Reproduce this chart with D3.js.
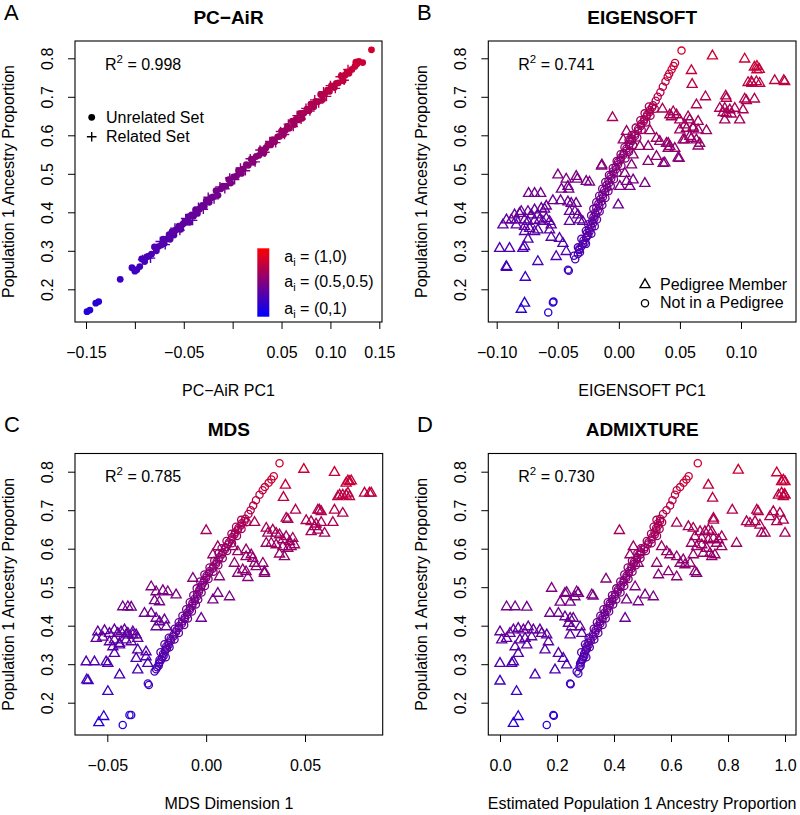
<!DOCTYPE html>
<html><head><meta charset="utf-8">
<script src="https://cdn.jsdelivr.net/npm/d3@7"></script>
<style>
body{margin:0;background:#fff}
svg{display:block}
text{font-family:"Liberation Sans",Arial,Helvetica,sans-serif;fill:#000}
</style>
</head><body>
<svg id="c" width="800" height="815"></svg>
<script>
// ---------------- DATA ----------------
const yTicks = [0.2,0.3,0.4,0.5,0.6,0.7,0.8];
const yTickLabels = ["0.2","0.3","0.4","0.5","0.6","0.7","0.8"];

const pcairXTicks = [-0.15,-0.10,-0.05,0,0.05,0.10,0.15];
const pcairXLabels = ["\u22120.15","","\u22120.05","","0.05","0.10","0.15"];
const eigXTicks = [-0.10,-0.05,0,0.05,0.10];
const eigXLabels = ["\u22120.10","\u22120.05","0.00","0.05","0.10"];
const mdsXTicks = [-0.05,0,0.05];
const mdsXLabels = ["\u22120.05","0.00","0.05"];
const admXTicks = [0,0.2,0.4,0.6,0.8,1.0];
const admXLabels = ["0.0","0.2","0.4","0.6","0.8","1.0"];

const titles = ["PC\u2212AiR","EIGENSOFT","MDS","ADMIXTURE"];
const letters = ["A","B","C","D"];
const xTitles = ["PC\u2212AiR PC1","EIGENSOFT PC1","MDS Dimension 1","Estimated Population 1 Ancestry Proportion"];
const r2Values = ["0.998","0.741","0.785","0.730"];
const yTitle = "Population 1 Ancestry Proportion";

// Panel A: PC-AiR
const pcairUnrelated = [
[-0.149,0.142],[-0.146,0.146],[-0.140,0.164],[-0.137,0.168],[-0.115,0.226],
[-0.103,0.256],[-0.100,0.247],[-0.098,0.251],[-0.095,0.259],[-0.093,0.279],[-0.090,0.272],[-0.088,0.284],[-0.086,0.286],[-0.083,0.291],[-0.080,0.310],
[-0.078,0.300],[-0.076,0.311],[-0.073,0.315],[-0.071,0.330],[-0.070,0.319],[-0.067,0.331],[-0.065,0.342],[-0.064,0.330],[-0.062,0.350],[-0.060,0.341],
[-0.058,0.354],[-0.056,0.357],[-0.055,0.364],[-0.053,0.356],[-0.051,0.369],[-0.049,0.376],[-0.047,0.374],[-0.045,0.389],[-0.044,0.374],[-0.042,0.393],
[-0.040,0.390],[-0.038,0.406],[-0.036,0.397],[-0.034,0.408],[-0.031,0.418],[-0.029,0.416],[-0.027,0.430],[-0.024,0.426],[-0.022,0.438],[-0.020,0.440],
[-0.017,0.456],[-0.015,0.444],[-0.012,0.461],[-0.010,0.468],[-0.007,0.468],[-0.004,0.485],[-0.002,0.476],[0.001,0.492],[0.004,0.494],[0.006,0.508],
[0.009,0.501],[0.011,0.513],[0.014,0.524],[0.016,0.522],[0.019,0.538],[0.021,0.530],[0.024,0.545],[0.027,0.548],[0.029,0.562],[0.032,0.554],
[0.034,0.567],[0.036,0.575],[0.039,0.575],[0.041,0.589],[0.043,0.583],[0.046,0.596],[0.048,0.597],[0.050,0.611],[0.052,0.602],[0.054,0.613],
[0.056,0.623],[0.058,0.618],[0.061,0.637],[0.063,0.628],[0.065,0.642],[0.067,0.640],[0.069,0.657],[0.071,0.644],[0.073,0.658],[0.076,0.668],
[0.078,0.664],[0.080,0.681],[0.083,0.674],[0.085,0.688],[0.087,0.687],[0.090,0.706],[0.092,0.693],[0.094,0.707],[0.097,0.717],[0.099,0.714],
[0.101,0.728],[0.104,0.724],[0.106,0.735],[0.108,0.736],[0.111,0.754],[0.113,0.742],[0.115,0.756],[0.117,0.764],[0.119,0.761],[0.122,0.771],
[0.125,0.779],[0.127,0.785],[0.126,0.790],[0.129,0.792],[0.133,0.789],[0.142,0.822]
];
const pcairRelated = [
[-0.092,0.277],[-0.084,0.281],[-0.074,0.324],[-0.069,0.316],[-0.059,0.359],[-0.054,0.353],[-0.048,0.384],[-0.041,0.379],[-0.035,0.413],[-0.030,0.408],
[-0.025,0.439],[-0.019,0.435],[-0.013,0.466],[-0.008,0.461],[-0.003,0.489],[0.002,0.485],[0.008,0.515],[0.013,0.508],[0.018,0.539],[0.023,0.531],
[0.028,0.562],[0.033,0.556],[0.038,0.584],[0.044,0.581],[0.049,0.610],[0.053,0.602],[0.057,0.629],[0.062,0.623],[0.066,0.651],[0.070,0.642],
[0.075,0.670],[0.079,0.663],[0.084,0.692],[0.088,0.684],[0.093,0.713],[0.096,0.701],[0.100,0.729],[0.105,0.722],[0.110,0.752],[0.114,0.743],[0.118,0.771]
];

// Non-pedigree individuals lying on the main band (shared ancestry values)
const bandY = [
0.292,0.296,0.305,0.312,0.318,0.321,0.327,0.333,0.338,0.341,
0.346,0.350,0.356,0.361,0.366,0.372,0.377,0.383,0.388,0.394,
0.399,0.405,0.411,0.417,0.422,0.428,0.434,0.440,0.446,0.452,
0.458,0.464,0.470,0.476,0.482,0.488,0.494,0.500,0.506,0.512,
0.518,0.524,0.530,0.536,0.542,0.548,0.554,0.560,0.566,0.572,
0.578,0.585,0.591,0.598,0.604,0.611,0.617,0.624,0.630,0.636,
0.642,0.648,0.654,0.660,0.666,0.672,0.678,0.690,0.700,0.712,
0.726,0.740,0.752,0.760,0.771,0.780,0.788];
const eigBandX = [
-0.0335,-0.0318,-0.0325,-0.0305,-0.0295,-0.0280,-0.0290,-0.0268,-0.0262,-0.0250,
-0.0262,-0.0240,-0.0245,-0.0222,-0.0230,-0.0210,-0.0218,-0.0200,-0.0208,-0.0186,
-0.0195,-0.0172,-0.0185,-0.0160,-0.0168,-0.0142,-0.0152,-0.0130,-0.0135,-0.0112,
-0.0120,-0.0095,-0.0102,-0.0080,-0.0085,-0.0062,-0.0068,-0.0042,-0.0048,-0.0024,
-0.0026,-0.0006,-0.0008,0.0014,0.0016,0.0036,0.0040,0.0062,0.0062,0.0084,
0.0088,0.0108,0.0110,0.0132,0.0134,0.0156,0.0158,0.0180,0.0184,0.0204,
0.0208,0.0226,0.0232,0.0250,0.0254,0.0272,0.0280,0.0302,0.0318,0.0340,
0.0360,0.0382,0.0400,0.0412,0.0432,0.0448,0.0460];
const mdsBandX = [
-0.0248,-0.0240,-0.0235,-0.0226,-0.0222,-0.0215,-0.0218,-0.0208,-0.0206,-0.0198,
-0.0202,-0.0190,-0.0190,-0.0178,-0.0180,-0.0166,-0.0164,-0.0153,-0.0150,-0.0138,
-0.0138,-0.0123,-0.0122,-0.0108,-0.0108,-0.0096,-0.0095,-0.0083,-0.0082,-0.0070,
-0.0070,-0.0058,-0.0058,-0.0046,-0.0046,-0.0036,-0.0034,-0.0026,-0.0022,-0.0014,
-0.0010,0.0000,0.0002,0.0014,0.0018,0.0032,0.0036,0.0050,0.0053,0.0064,
0.0068,0.0079,0.0084,0.0095,0.0098,0.0110,0.0116,0.0128,0.0132,0.0143,
0.0146,0.0160,0.0163,0.0175,0.0180,0.0194,0.0198,0.0214,0.0225,0.0238,
0.0252,0.0270,0.0286,0.0297,0.0316,0.0330,0.0342];
const admBandX = [
0.279,0.283,0.284,0.290,0.292,0.296,0.295,0.300,0.301,0.305,
0.303,0.311,0.310,0.319,0.317,0.327,0.326,0.335,0.335,0.344,
0.343,0.352,0.351,0.360,0.359,0.368,0.367,0.376,0.376,0.385,
0.385,0.394,0.394,0.403,0.404,0.413,0.414,0.423,0.424,0.433,
0.434,0.443,0.444,0.452,0.453,0.461,0.461,0.469,0.470,0.480,
0.482,0.493,0.495,0.506,0.508,0.519,0.521,0.532,0.534,0.543,
0.542,0.549,0.548,0.555,0.554,0.562,0.562,0.572,0.584,0.597,
0.605,0.614,0.620,0.632,0.644,0.654,0.662];

// Second row of band circles (the band is two to three circles wide)
const band2Y = [
0.318,0.331,0.344,0.352,0.364,0.369,0.381,0.392,0.402,0.409,
0.419,0.426,0.437,0.443,0.455,0.461,0.468,0.479,0.486,0.497,
0.503,0.515,0.521,0.533,0.540,0.551,0.557,0.569,0.575,0.588,
0.594,0.601,0.614,0.620,0.633,0.639,0.651,0.657,0.669,0.675];
const eigBand2X = [
-0.0269,-0.0307,-0.0225,-0.0270,-0.0197,-0.0251,-0.0179,-0.0227,-0.0157,-0.0209,
-0.0135,-0.0185,-0.0110,-0.0161,-0.0085,-0.0136,-0.0066,-0.0111,-0.0040,-0.0081,
-0.0011,-0.0050,0.0021,-0.0018,0.0054,0.0014,0.0084,0.0046,0.0117,0.0080,
0.0151,0.0104,0.0187,0.0138,0.0224,0.0176,0.0259,0.0211,0.0294,0.0246];
const mdsBand2X = [
-0.0204,-0.0231,-0.0185,-0.0211,-0.0160,-0.0189,-0.0138,-0.0159,-0.0111,-0.0139,
-0.0092,-0.0120,-0.0072,-0.0101,-0.0052,-0.0083,-0.0040,-0.0065,-0.0023,-0.0048,
-0.0006,-0.0030,0.0012,-0.0009,0.0037,0.0017,0.0062,0.0041,0.0084,0.0063,
0.0106,0.0078,0.0131,0.0103,0.0156,0.0128,0.0179,0.0151,0.0205,0.0177];
const admBand2X = [
0.303,0.285,0.315,0.298,0.331,0.311,0.345,0.329,0.360,0.340,
0.371,0.352,0.383,0.363,0.397,0.378,0.408,0.393,0.423,0.408,
0.436,0.422,0.451,0.436,0.465,0.448,0.477,0.463,0.493,0.482,
0.512,0.495,0.532,0.515,0.551,0.530,0.560,0.539,0.569,0.549];

// Panel B: EIGENSOFT
const eigOtherCircles = [[-0.0417,0.251],[-0.0410,0.248],[-0.0540,0.166],[-0.0535,0.168],[-0.0578,0.140],[-0.0368,0.287],[-0.0357,0.278],[-0.0335,0.309],[-0.0322,0.302],[0.0513,0.820]];
const eigTriangles = [
[-0.0139,0.523],[-0.0499,0.497],[-0.0431,0.486],[-0.0349,0.493],[-0.0340,0.486],[-0.0267,0.480],[-0.0240,0.478],[-0.0417,0.467],[-0.0470,0.460],[-0.0410,0.460],
[-0.0739,0.449],[-0.0690,0.449],[-0.0640,0.449],[-0.0540,0.430],[-0.0477,0.430],[-0.0417,0.427],[-0.0390,0.423],[-0.0350,0.423],[-0.0594,0.416],[-0.0799,0.402],
[-0.0744,0.402],[-0.0690,0.406],[-0.0635,0.410],[-0.0608,0.408],[-0.0854,0.393],[-0.0813,0.397],[-0.0717,0.393],[-0.0663,0.393],[-0.0404,0.402],[-0.0360,0.402],
[-0.0335,0.393],[-0.0920,0.380],[-0.0880,0.380],[-0.0840,0.380],[-0.0772,0.380],[-0.0744,0.376],[-0.0690,0.378],[-0.0649,0.380],[-0.0622,0.376],[-0.0594,0.384],
[-0.0567,0.376],[-0.0554,0.367],[-0.0949,0.367],[-0.0840,0.367],[-0.0772,0.363],[-0.0731,0.358],[-0.0663,0.354],[-0.0567,0.354],[-0.0404,0.376],[-0.0322,0.380],
[-0.0295,0.376],[-0.0772,0.350],[-0.0690,0.350],[-0.0744,0.330],[-0.0554,0.335],[-0.0486,0.332],[-0.0458,0.319],[-0.0976,0.306],[-0.0895,0.306],[-0.0786,0.306],
[-0.0772,0.311],[-0.0513,0.285],[-0.0663,0.272],[-0.0431,0.298],[-0.0922,0.259],[-0.0918,0.257],[-0.0766,0.231],[-0.0772,0.164],[-0.0799,0.148],
[-0.0052,0.646],[0.0594,0.768],[0.0600,0.732],[0.0635,0.679],[0.0357,0.668],[0.0445,0.661],[0.0417,0.653],[0.0472,0.653],[0.0499,0.640],[0.0567,0.648],
[0.0580,0.640],[0.0539,0.627],[0.0608,0.618],[0.0499,0.614],[0.0526,0.588],[0.0580,0.597],[0.0063,0.610],[0.0036,0.588],[0.0090,0.588],[0.0254,0.612],
[0.0308,0.592],[0.0335,0.584],[0.0404,0.579],[0.0417,0.571],[0.0458,0.566],[0.0172,0.571],[0.0240,0.571],[0.0117,0.549],[0.0104,0.523],[0.0240,0.532],
[0.0308,0.545],[0.0376,0.528],[0.0485,0.541],[-0.0142,0.520],[0.0049,0.501],[0.0063,0.480],[0.0008,0.467],[0.0090,0.467],[0.0117,0.484],[0.0213,0.475],
[-0.0005,0.419],
[0.0766,0.806],[0.1030,0.798],[0.1110,0.777],[0.1130,0.779],[0.1150,0.771],[0.1130,0.770],[0.1085,0.739],[0.1126,0.739],[0.1153,0.735],[0.1058,0.737],
[0.1090,0.735],[0.1276,0.742],[0.1350,0.742],[0.1358,0.739],[0.0709,0.700],[0.0875,0.702],[0.0880,0.696],[0.1030,0.694],[0.1110,0.694],[0.1044,0.690],
[0.0826,0.670],[0.0867,0.670],[0.0908,0.666],[0.0949,0.670],[0.1017,0.666],[0.0854,0.659],[0.0880,0.657],[0.0920,0.655],[0.0867,0.640],[0.0989,0.640],
[0.0431,0.648],[0.0649,0.636],[0.0554,0.618],[0.0608,0.621],[0.0649,0.614],[0.0717,0.612],[0.0540,0.588],[0.0594,0.592],[0.0635,0.588],[0.0662,0.579],
[0.0649,0.572],[0.0390,0.579],[0.0404,0.566],[0.0494,0.540],[0.0363,0.527]
];

// Panel C: MDS
const mdsOtherCircles = [[0.0371,0.822],[-0.0422,0.142],[-0.0388,0.168],[-0.0379,0.168],[-0.0295,0.250],[-0.0290,0.246],[-0.0261,0.281],[-0.0253,0.287],[-0.0236,0.311],[-0.0239,0.302]];
const mdsTriangles = [
[0.0494,0.806],[0.0649,0.798],[0.0717,0.776],[0.0725,0.774],[0.0734,0.776],[0.0708,0.770],[0.0708,0.739],[0.0717,0.744],[0.0666,0.735],[0.0675,0.739],
[0.0725,0.735],[0.0691,0.739],[0.0801,0.744],[0.0826,0.744],[0.0835,0.744],[0.0401,0.765],[0.0391,0.733],[0.0452,0.700],[0.0405,0.679],[0.0413,0.676],
[0.0565,0.700],[0.0573,0.700],[0.0582,0.696],[0.0649,0.700],[0.0691,0.692],[0.0506,0.673],[0.0531,0.670],[0.0556,0.664],[0.0582,0.668],[0.0641,0.668],
[0.0531,0.644],[0.0565,0.648],[0.0599,0.640],[0.0548,0.657],[0.0245,0.668],[0.0304,0.653],[0.0337,0.648],[0.0312,0.640],[0.0354,0.640],[0.0371,0.636],
[0.0405,0.631],[0.0438,0.627],[0.0388,0.623],[0.0422,0.618],[0.0304,0.614],[0.0329,0.614],[0.0354,0.610],[0.0388,0.605],[0.0413,0.601],[0.0430,0.605],
[0.0447,0.610],[0.0396,0.579],[0.0371,0.586],[0.0135,0.605],[0.0160,0.592],[0.0202,0.597],[0.0202,0.579],[0.0228,0.584],[0.0236,0.575],[0.0245,0.562],
[0.0253,0.553],[0.0287,0.562],[0.0295,0.540],[0.0295,0.536],[0.0143,0.562],[0.0160,0.536],[0.0211,0.525],[0.0202,0.540],[0.0185,0.545],[0.0000,0.647],
[0.0059,0.605],[0.0034,0.584],[0.0067,0.527],[0.0059,0.484],[0.0034,0.467],[0.0118,0.475],[-0.0067,0.523],[-0.0025,0.419],
[-0.0278,0.501],[-0.0253,0.488],[-0.0219,0.491],[-0.0194,0.488],[-0.0152,0.480],[-0.0261,0.465],[-0.0236,0.462],[-0.0422,0.449],[-0.0396,0.449],[-0.0379,0.448],
[-0.0312,0.432],[-0.0278,0.432],[-0.0253,0.419],[-0.0236,0.410],[-0.0211,0.415],[-0.0202,0.397],[-0.0253,0.397],[-0.0548,0.384],[-0.0514,0.387],[-0.0556,0.367],
[-0.0523,0.370],[-0.0489,0.380],[-0.0464,0.389],[-0.0447,0.380],[-0.0430,0.384],[-0.0413,0.389],[-0.0396,0.380],[-0.0371,0.384],[-0.0354,0.376],[-0.0489,0.358],
[-0.0464,0.363],[-0.0438,0.354],[-0.0405,0.363],[-0.0379,0.358],[-0.0346,0.367],[-0.0371,0.376],[-0.0405,0.376],[-0.0472,0.345],[-0.0438,0.350],[-0.0464,0.328],
[-0.0346,0.337],[-0.0304,0.332],[-0.0354,0.315],[-0.0304,0.319],[-0.0295,0.302],[-0.0607,0.306],[-0.0565,0.306],[-0.0506,0.306],[-0.0497,0.302],[-0.0604,0.259],
[-0.0597,0.257],[-0.0438,0.272],[-0.0346,0.285],[-0.0497,0.229],[-0.0543,0.148],[-0.0518,0.164]
];

// Panel D: ADMIXTURE
const admOtherCircles = [[0.694,0.822],[0.164,0.142],[0.187,0.168],[0.189,0.166],[0.246,0.250],[0.248,0.248],[0.269,0.281],[0.275,0.276],[0.287,0.311],[0.281,0.302]];
const admTriangles = [
[0.836,0.804],[0.971,0.797],[0.994,0.778],[1.000,0.774],[0.988,0.774],[0.977,0.739],[0.988,0.744],[0.994,0.735],[1.000,0.739],[0.998,0.741],
[0.731,0.765],[0.746,0.731],[0.815,0.700],[0.830,0.614],[0.901,0.700],[0.906,0.696],[0.865,0.670],[0.877,0.666],[0.895,0.670],[0.959,0.696],
[0.982,0.692],[0.947,0.683],[0.971,0.670],[0.912,0.661],[0.918,0.640],[0.930,0.640],[0.994,0.674],[1.000,0.640],[0.749,0.679],[0.749,0.674],
[0.620,0.666],[0.661,0.657],[0.678,0.653],[0.702,0.644],[0.719,0.644],[0.731,0.648],[0.743,0.644],[0.684,0.631],[0.708,0.627],[0.731,0.623],
[0.749,0.627],[0.766,0.623],[0.778,0.631],[0.760,0.614],[0.778,0.605],[0.672,0.614],[0.690,0.605],[0.708,0.610],[0.725,0.601],[0.713,0.588],
[0.737,0.588],[0.754,0.584],[0.743,0.579],[0.678,0.584],[0.684,0.540],[0.690,0.536],[0.643,0.571],[0.667,0.562],[0.632,0.562],[0.649,0.558],
[0.567,0.605],[0.585,0.592],[0.596,0.584],[0.620,0.579],[0.550,0.562],[0.556,0.532],[0.591,0.540],[0.620,0.527],[0.456,0.584],[0.468,0.605],
[0.491,0.592],[0.485,0.562],[0.419,0.647],[0.372,0.521],[0.474,0.501],[0.509,0.480],[0.538,0.475],[0.485,0.462],[0.444,0.467],[0.439,0.419],
[0.181,0.497],[0.228,0.484],[0.234,0.486],[0.269,0.488],[0.275,0.484],[0.263,0.475],[0.211,0.461],[0.246,0.461],[0.322,0.480],[0.327,0.477],
[0.023,0.449],[0.053,0.449],[0.094,0.448],[0.175,0.432],[0.205,0.432],[0.228,0.423],[0.246,0.419],[0.257,0.419],[0.240,0.406],[0.251,0.397],
[0.281,0.397],[0.287,0.380],[0.246,0.376],[0.000,0.384],[0.006,0.363],[0.023,0.367],[0.035,0.380],[0.047,0.389],[0.064,0.393],[0.082,0.389],
[0.099,0.397],[0.117,0.389],[0.140,0.389],[0.146,0.380],[0.111,0.371],[0.088,0.367],[0.070,0.363],[0.164,0.376],[0.170,0.358],[0.053,0.345],
[0.094,0.350],[0.064,0.328],[0.158,0.337],[0.000,0.302],[0.041,0.302],[0.047,0.306],[0.205,0.328],[0.222,0.315],[0.234,0.298],[0.193,0.285],
[0.123,0.272],[0.000,0.256],[0.058,0.229],[0.047,0.146],[0.064,0.164]
];

const ancestryLegend = ["(1,0)","(0.5,0.5)","(0,1)"];
const pedLegend = ["Pedigree Member","Not in a Pedigree"];
const setLegend = ["Unrelated Set","Related Set"];

// ---------------- DRAWING ----------------
const svg = d3.select("#c");
const col = d3.interpolateRgb("blue","red");
const TR = 5.8;
const triPath = `M0,${-TR}L${0.866*TR},${TR/2}L${-0.866*TR},${TR/2}Z`;

const panels = [
  {box:{l:75,t:41,r:382,b:322}, xd:[-0.15,0.15], xr:[86,379.3], yr:[289.3,58.3], xt:pcairXTicks, xl:pcairXLabels, lx:4, ly:20},
  {box:{l:488.3,t:41,r:796,b:322}, xd:[-0.10,0.10], xr:[496.7,741.0], yr:[289.3,58.3], xt:eigXTicks, xl:eigXLabels, lx:417, ly:19.5},
  {box:{l:75,t:453.5,r:382.7,b:735}, xd:[-0.05,0.05], xr:[107.3,305.0], yr:[702.7,471.7], xt:mdsXTicks, xl:mdsXLabels, lx:4, ly:432},
  {box:{l:488.3,t:453.5,r:796,b:735}, xd:[0,1], xr:[500,785], yr:[702.7,471.7], xt:admXTicks, xl:admXLabels, lx:417, ly:432}
];

panels.forEach((p,i)=>{
  const b = p.box;
  p.x = d3.scaleLinear().domain(p.xd).range(p.xr);
  p.y = d3.scaleLinear().domain([0.2,0.8]).range(p.yr);
  const g = svg.append("g");
  p.g = g;
  const xa = g.append("g").attr("transform",`translate(0,${b.b})`)
    .call(d3.axisBottom(p.x).tickValues(p.xt).tickFormat((d,k)=>p.xl[k]).tickSize(7).tickPadding(18));
  xa.select(".domain").remove();
  xa.selectAll("line").attr("stroke","#000");
  xa.selectAll("text").attr("font-size",16).attr("font-family",null);
  const ya = g.append("g").attr("transform",`translate(${b.l},0)`)
    .call(d3.axisLeft(p.y).tickValues(yTicks).tickFormat((d,k)=>yTickLabels[k]).tickSize(7));
  ya.select(".domain").remove();
  ya.selectAll("line").attr("stroke","#000");
  ya.selectAll("text").attr("font-size",16).attr("font-family",null)
    .attr("transform","rotate(-90)").attr("x",0).attr("y",-22.5).attr("dy",null)
    .attr("text-anchor","middle");
  g.append("rect").attr("x",b.l).attr("y",b.t).attr("width",b.r-b.l).attr("height",b.b-b.t)
    .attr("fill","none").attr("stroke","#000").attr("stroke-width",1.1);
  const cx = (b.l+b.r)/2;
  g.append("text").attr("x",cx).attr("y",b.t-17.5).attr("text-anchor","middle")
    .attr("font-size",19).attr("font-weight","bold").text(titles[i]);
  g.append("text").attr("x",p.lx).attr("y",p.ly).attr("font-size",22).text(letters[i]);
  g.append("text").attr("x",cx).attr("y",b.b+74).attr("text-anchor","middle")
    .attr("font-size",16).text(xTitles[i]);
  g.append("text").attr("transform",`translate(${b.l-61.5},${(b.t+b.b)/2}) rotate(-90)`)
    .attr("text-anchor","middle").attr("font-size",16).text(yTitle);
  const r2 = g.append("text").attr("x",b.l+30).attr("y",b.t+28.5).attr("font-size",16);
  r2.append("tspan").text("R");
  r2.append("tspan").attr("font-size",11.5).attr("dy",-7).text("2");
  r2.append("tspan").attr("dy",7).text(" = " + r2Values[i]);
});

function tri(p, data){
  p.g.append("g").selectAll("path").data(data).join("path")
    .attr("d",triPath)
    .attr("transform",d=>`translate(${p.x(d[0])},${p.y(d[1])})`)
    .attr("fill","none").attr("stroke",d=>col(d[1])).attr("stroke-width",1.35);
}
function circ(p, data){
  p.g.append("g").selectAll("circle").data(data).join("circle")
    .attr("cx",d=>p.x(d[0])).attr("cy",d=>p.y(d[1])).attr("r",3.6)
    .attr("fill","none").attr("stroke",d=>col(d[1])).attr("stroke-width",1.3);
}
const band = (xs, ys)=> xs.map((x,k)=>[x,ys[k]]);

// Panel A points
const pA = panels[0];
pA.g.append("g").selectAll("circle").data(pcairUnrelated).join("circle")
  .attr("cx",d=>pA.x(d[0])).attr("cy",d=>pA.y(d[1])).attr("r",3.4)
  .attr("fill",d=>col(d[1]));
pA.g.append("g").selectAll("path").data(pcairRelated).join("path")
  .attr("d","M-4.8,0H4.8M0,-4.8V4.8")
  .attr("transform",d=>`translate(${pA.x(d[0])},${pA.y(d[1])})`)
  .attr("stroke",d=>col(d[1])).attr("stroke-width",1.4).attr("fill","none");

// Panels B-D
tri(panels[1], eigTriangles);
circ(panels[1], band(eigBandX,bandY).concat(band(eigBand2X,band2Y), eigOtherCircles));
tri(panels[2], mdsTriangles);
circ(panels[2], band(mdsBandX,bandY).concat(band(mdsBand2X,band2Y), mdsOtherCircles));
tri(panels[3], admTriangles);
circ(panels[3], band(admBandX,bandY).concat(band(admBand2X,band2Y), admOtherCircles));

// Legend A (sets)
const lg = pA.g.append("g");
lg.append("circle").attr("cx",91.7).attr("cy",117.3).attr("r",3.4).attr("fill","#000");
lg.append("path").attr("d","M86.9,136.7H96.5M91.7,131.9V141.5").attr("stroke","#000").attr("stroke-width",1.4);
lg.append("text").attr("x",106).attr("y",122.7).attr("font-size",16).text(setLegend[0]);
lg.append("text").attr("x",106).attr("y",141.7).attr("font-size",16).text(setLegend[1]);

// Colour bar legend
const defs = svg.append("defs");
const grad = defs.append("linearGradient").attr("id","anc").attr("x1",0).attr("y1",1).attr("x2",0).attr("y2",0);
grad.append("stop").attr("offset","0%").attr("stop-color",col(0));
grad.append("stop").attr("offset","50%").attr("stop-color",col(0.5));
grad.append("stop").attr("offset","100%").attr("stop-color",col(1));
pA.g.append("rect").attr("x",257.3).attr("y",248.3).attr("width",12).attr("height",68.4).attr("fill","url(#anc)");
[261.7,287.3,314].forEach((yy,k)=>{
  const t = pA.g.append("text").attr("x",284.3).attr("y",yy).attr("font-size",16);
  t.append("tspan").text("a");
  t.append("tspan").attr("font-size",11).attr("dy",4).text("i");
  t.append("tspan").attr("dy",-4).text(" = " + ancestryLegend[k]);
});

// Legend B (pedigree)
const pB = panels[1];
pB.g.append("path").attr("d",triPath).attr("transform","translate(645,284.7)")
  .attr("fill","none").attr("stroke","#000").attr("stroke-width",1.3);
pB.g.append("circle").attr("cx",645).attr("cy",303.3).attr("r",3.6).attr("fill","none").attr("stroke","#000").attr("stroke-width",1.3);
pB.g.append("text").attr("x",660).attr("y",290).attr("font-size",16).text(pedLegend[0]);
pB.g.append("text").attr("x",660).attr("y",308.3).attr("font-size",16).text(pedLegend[1]);
</script>
</body></html>
